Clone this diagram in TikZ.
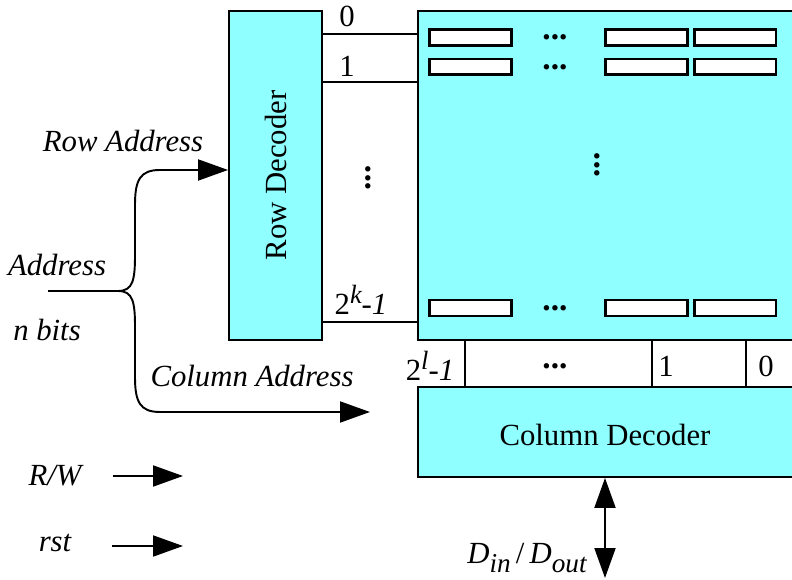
\documentclass[tikz,border=0pt]{standalone}
\usepackage{fontspec}
\setmainfont{Liberation Serif}
\usepackage{xcolor}
\usetikzlibrary{positioning}
\usetikzlibrary{calc}
\usetikzlibrary{arrows.meta}

\newcommand{\upidx}[1]{\raisebox{0.38em}{\fontsize{15}{15}\selectfont\itshape #1}}
\newcommand{\dnidx}[1]{\raisebox{-0.32em}{\fontsize{15.5}{15}\selectfont\itshape #1}}

\begin{document}
\begin{tikzpicture}
    [%%%%%%%%%%%%%%%%%%%%%%%%%%%%%%
        x=0.02cm, y=-0.02cm,
        >={Triangle[length=0.6cm,width=0.42cm]},
        box/.style={rectangle,draw=black,line width=1.1pt,fill=memcyan,inner sep=0pt},
        cell/.style={rectangle,draw=black,line width=1.7pt,fill=white,minimum width=1.64cm,minimum height=0.32cm,inner sep=0pt},
        wire/.style={line width=1.1pt},
        sig/.style={line width=1.1pt,->},
        txt/.style={font=\fontsize{17.5}{20}\selectfont},
        lbl/.style={font=\fontsize{17.5}{20}\selectfont\itshape},
        dots/.style={font=\fontsize{19}{20}\selectfont\bfseries,inner sep=0pt}
    ]%%%%%%%%%%%%%%%%%%%%%%%%%%%%%%
\definecolor{memcyan}{RGB}{143,255,255}
\useasboundingbox (0,0) rectangle (792,580);

% row decoder and array (array runs off the right edge)
\node[box,minimum width=1.86cm,minimum height=6.58cm] (rowdec) at (275.5,175.5) {};
\node[txt,rotate=90] (rowdectxt) at (rowdec.center) {Row Decoder};
\node[box,minimum width=7.8cm,minimum height=6.58cm] (array) at (613,175.5) {};

\foreach \r/\y in {0/37.5,1/67,2/308}{
    \node[cell] (c\r-1) at (470.5,\y) {};
    \node[dots] (d\r) at (555,\y) {...};
    \node[cell] (c\r-2) at (646.5,\y) {};
    \node[cell] (c\r-3) at (735,\y) {};
}
\node[dots,rotate=90] (vdots) at (597,165) {...};
\node[dots,rotate=90] (rdots) at (368,178) {...};

% word lines
\foreach \n/\y in {r0/34,r1/82,rk/322}{
    \coordinate (\n) at (0,\y);
    \draw[wire] (rowdec.east |- \n) -- (array.west |- \n);
}
\node[txt] (l0) at (347,16) {0};
\node[txt] (l1) at (347,66) {1};
\node[txt] (lk) at (361,300) {2\upidx{k}\textit{-1}};

% column strip
\node[box,fill=white,minimum width=6.9cm,minimum height=0.94cm] (colstrip) at (637.5,363.5) {};
\foreach \x in {652,746}{
    \draw[wire] (colstrip.north -| \x,0) -- (colstrip.south -| \x,0);
}
\node[dots] (cdots) at (555,366) {...};
\node[txt] (cl1) at (666,366) {1};
\node[txt] (cl0) at (766,366) {0};
\node[txt] (cll) at (430,366) {2\upidx{l}\textit{-1}};

% column decoder
\node[box,minimum width=7.8cm,minimum height=1.8cm] (coldec) at (613,432) {};
\node[txt] (coldectxt) at (605,435) {Column Decoder};

% address
\coordinate (addr) at (48,291);
\coordinate (split) at (118,291);
\coordinate (rowtip) at (0,170);
\coordinate (coltip) at (370,412);
\draw[wire] (addr) -- (split);
\draw[sig] (split) .. controls (133,291) and (135,280) .. (135,255) -- (135,205)
    .. controls (135,180) and (140,170) .. (160,170) -- (rowdec.west |- rowtip);
\draw[sig] (split) .. controls (133,291) and (135,302) .. (135,327) -- (135,377)
    .. controls (135,402) and (140,412) .. (160,412) -- (coltip);
\node[lbl] (rowaddr) at (123,141) {Row Address};
\node[lbl] (address) at (57,265) {Address};
\node[lbl] (nbits) at (47,330) {n bits};
\node[lbl] (coladdr) at (252,376) {Column Address};

% control inputs
\node[lbl] (rw) at (55,476) {R/W};
\node[lbl] (rst) at (55,543) {rst};
\coordinate (rwend) at (183,476);
\coordinate (rstend) at (183,546);
\draw[sig] (rw.east |- rwend) ++(0.5cm,0) -- (rwend);
\draw[sig] (rst.east |- rstend) ++(0.7cm,0) -- (rstend);

% data bus
\coordinate (dbus) at (605,578);
\draw[wire,<->] (coldec.south -| dbus) -- (dbus);
\node[lbl] (dlbl) at (527,558) {D\dnidx{in}\,\textup{/}\,D\dnidx{out}};

\end{tikzpicture}
\end{document}
